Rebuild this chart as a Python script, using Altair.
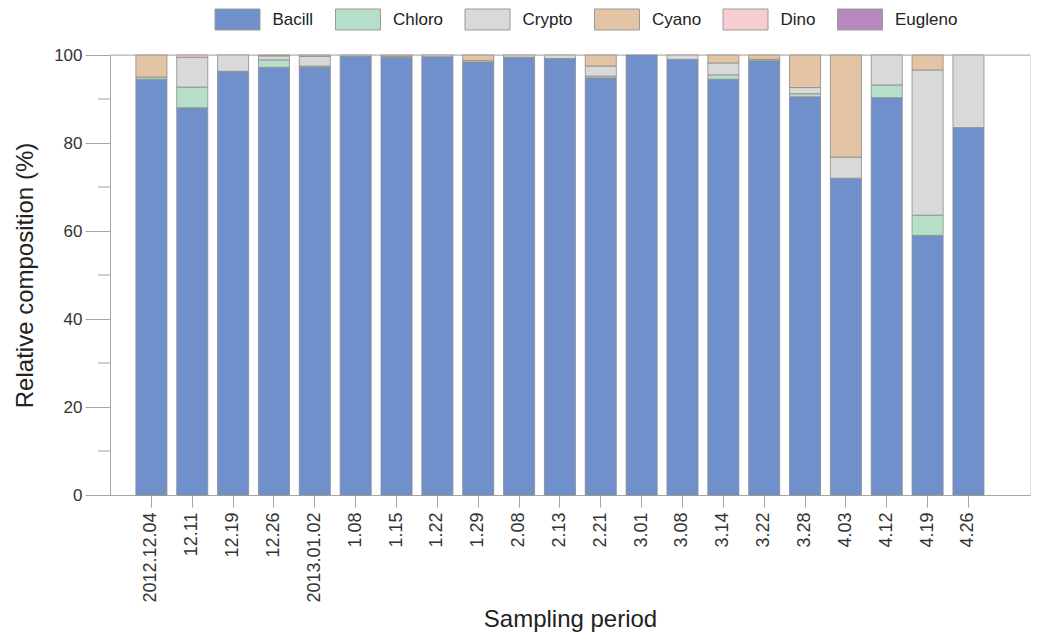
import altair as alt
import pandas as pd

dates = ["2012.12.04", "12.11", "12.19", "12.26", "2013.01.02", "1.08", "1.15",
         "1.22", "1.29", "2.08", "2.13", "2.21", "3.01", "3.08", "3.14", "3.22",
         "3.28", "4.03", "4.12", "4.19", "4.26"]
groups = ["Bacill", "Chloro", "Crypto", "Cyano", "Dino", "Eugleno"]
colors = ["#7090cc", "#b6dfca", "#d9d9d9", "#e3c4a4", "#f6cdd0", "#b988c0"]

bacill = [94.5, 88.0, 96.3, 97.2, 97.2, 99.7, 99.4, 99.6, 98.4, 99.5, 99.2,
          94.8, 100.0, 99.0, 94.5, 98.7, 90.5, 72.0, 90.3, 59.0, 83.5]
chloro = [0.5, 4.7, 0, 1.7, 0.3, 0, 0.3, 0, 0, 0, 0,
          0.4, 0, 0, 1.0, 0.3, 0.7, 0, 2.9, 4.6, 0]
crypto = [0, 6.8, 3.7, 0.9, 2.2, 0.3, 0, 0.4, 0.3, 0.5, 0.8,
          2.3, 0, 1.0, 2.7, 0, 1.4, 4.8, 6.8, 33.0, 16.5]
cyano = [5.0, 0, 0, 0.2, 0.3, 0, 0.3, 0, 1.3, 0, 0,
         2.5, 0, 0, 1.8, 1.0, 7.4, 23.2, 0, 3.4, 0]
dino = [0, 0.5, 0, 0, 0, 0, 0, 0, 0, 0, 0,
        0, 0, 0, 0, 0, 0, 0, 0, 0, 0]
eugleno = [0] * 21

series = [bacill, chloro, crypto, cyano, dino, eugleno]
rows = []
for gi, (g, vals) in enumerate(zip(groups, series)):
    for d, v in zip(dates, vals):
        if v > 0:
            rows.append({"date": d, "group": g, "value": v, "ord": gi})
df = pd.DataFrame(rows)

FONT = "Liberation Sans"
W, H = 920, 440

x_enc = alt.X("date:N", sort=dates, title="Sampling period",
              scale=alt.Scale(paddingInner=0.24, paddingOuter=0.88, align=0.36),
              axis=alt.Axis(labelAngle=270, labelFontSize=18, titleFontSize=24,
                            titlePadding=5, tickSize=12, labelPadding=5,
                            domainColor="#a6a6a6", tickColor="#a6a6a6",
                            labelColor="#333333", titleColor="#222222",
                            titleFont=FONT, labelFont=FONT, titleFontWeight="normal"))

y_scale = alt.Scale(domain=[0, 100], nice=False)

bars = alt.Chart(df).mark_bar(stroke="#8a8a8a", strokeWidth=0.8).encode(
    x=x_enc,
    y=alt.Y("value:Q", stack="zero", scale=y_scale, title="Relative composition (%)",
            axis=alt.Axis(values=[0, 20, 40, 60, 80, 100], tickSize=25, labelFontSize=17,
                          titleFontSize=24, titlePadding=16, labelPadding=3,
                          domainColor="#a6a6a6", tickColor="#a6a6a6",
                          labelColor="#333333", titleColor="#222222",
                          titleFont=FONT, labelFont=FONT, titleFontWeight="normal",
                          grid=False)),
    color=alt.Color("group:N", scale=alt.Scale(domain=groups, range=colors),
                    legend=alt.Legend(title=None, orient="none", direction="horizontal",
                                      legendX=117, legendY=-46,
                                      symbolType="M-2.25,-1.05L2.25,-1.05L2.25,1.05L-2.25,1.05Z",
                                      symbolSize=400, symbolStrokeColor="#9a9a9a",
                                      symbolStrokeWidth=1, labelFontSize=17,
                                      labelFont=FONT, labelColor="#222222",
                                      labelOffset=24.5, columnPadding=19.5)),
    order=alt.Order("ord:Q"),
)

top_vals = [100]
top_line = alt.Chart(pd.DataFrame({"y": top_vals})).mark_rule(
    color="#b0b0b0", strokeWidth=1).encode(y=alt.Y("y:Q", scale=y_scale))

minor_vals = [10, 30, 50, 70, 90]
minor = alt.Chart(pd.DataFrame({"y": minor_vals})).mark_rule(
    color="#a6a6a6", strokeWidth=1).encode(
    y=alt.Y("y:Q", scale=y_scale), x=alt.value(-12), x2=alt.value(0))

chart = alt.layer(top_line, bars, minor).properties(
    width=W, height=H,
    padding={"left": 5, "top": 1, "right": 5, "bottom": 0},
).configure_view(stroke=None).configure(font=FONT)

chart.save("out.html", embed_options={"renderer": "svg", "actions": False})
